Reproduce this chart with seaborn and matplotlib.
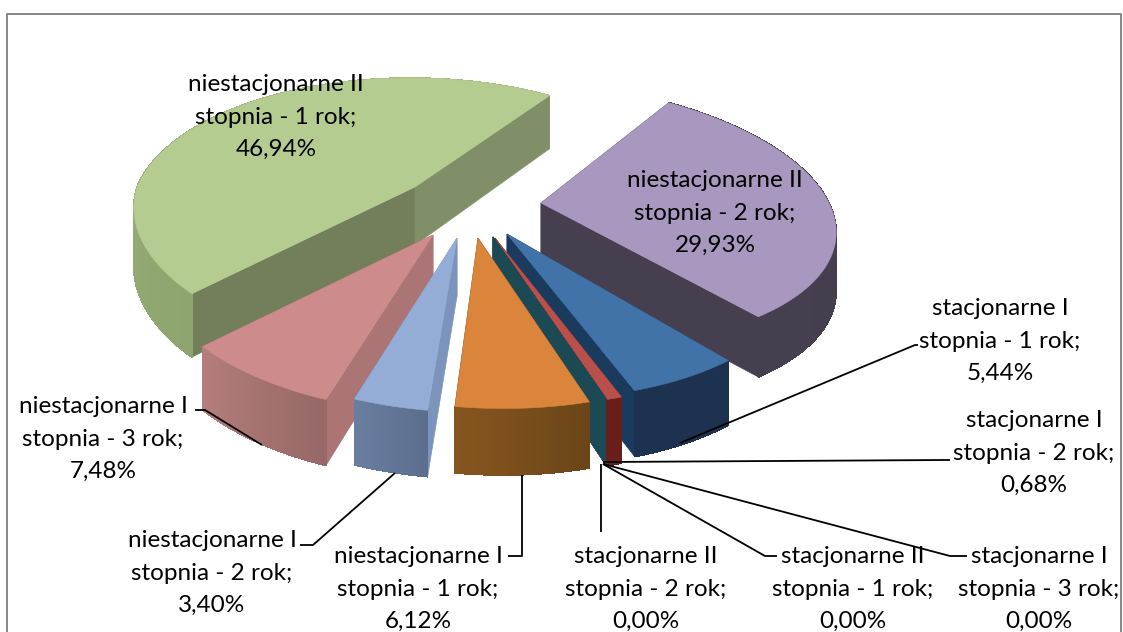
import numpy as np
import matplotlib
matplotlib.use("Agg")
import matplotlib.pyplot as plt
import seaborn as sns

# Data
categories = ["stacjonarne I\nstopnia - 1 rok", "stacjonarne I\nstopnia - 2 rok", "stacjonarne I\nstopnia - 3 rok",
              "stacjonarne II\nstopnia - 1 rok", "stacjonarne II\nstopnia - 2 rok", "niestacjonarne I\nstopnia - 1 rok",
              "niestacjonarne I\nstopnia - 2 rok", "niestacjonarne I\nstopnia - 3 rok", "niestacjonarne II\nstopnia - 1 rok",
              "niestacjonarne II\nstopnia - 2 rok"]
shares = [5.44, 0.68, 0.00, 0.00, 0.00, 6.12, 3.40, 7.48, 46.94, 29.93]

# Styles
top_colors = ["#4273A8", "#B9504B", "#1B4A55", "#1B4A55", "#1B4A55", "#DB843C", "#94ADD6", "#CE8B8B", "#B5CC90", "#A898BF"]
side_from = ["#1C3250", "#6A1E1A", "#1B4A55", "#1B4A55", "#1B4A55", "#6B4518", "#5B6E8E", "#966867", "#8FA570", "#423C4C"]
side_to = ["#1C3250", "#6A1E1A", "#1B4A55", "#1B4A55", "#1B4A55", "#87561F", "#6A7E9F", "#B57E7C", "#A8BE85", "#463F50"]
cut_start = ["#1A3A5E", "#6A1E1A", "#1B4A55", "#1B4A55", "#1B4A55", "#6B4518", "#7C94BC", "#AB7575", "#727F5A", "#463F50"]
cut_end = ["#1A3A5E", "#6A1E1A", "#1B4A55", "#1B4A55", "#1B4A55", "#6B4518", "#7C94BC", "#AB7575", "#818F69", "#463F50"]
explode_px = [(27, 21), (15, 25), (13, 24), (13, 24), (13, 24), (-2, 25), (-23, 25), (-47, 22), (-65, -26), (61, -10)]
draw_order = [8, 9, 7, 0, 1, 2, 3, 4, 6, 5]

# 3D view: exploded slices sit off the vanishing point, so each has its own fit
center = (480, 213)
rx = [278, 278, 278, 278, 278, 278, 278, 278, 278, 288]
ry = [129, 131, 131, 131, 131, 133, 136, 139, 133, 132]
persp = [0.22, 0.22, 0.22, 0.22, 0.22, 0.22, 0.22, 0.22, 0.22, 0.08]
shear_front = [0.17, 0.16, 0.16, 0.16, 0.16, 0.15, 0.11, 0.08, 0.15, 0.31]
shear_back = [0.17, 0.16, 0.16, 0.16, 0.16, 0.15, 0.11, 0.08, 0.045, 0.31]
depth = 58
start_angle = 143.75

label_pos = [(1000, 341), (1034, 453), (1039, 589), (853, 589), (646, 589),
             (418, 589), (212, 573), (103, 439), (276, 117), (715, 213)]
leaders = [[(680, 443), (915, 345), (918, 345)],
           [(603, 462), (945, 460), (950, 460)],
           [(603, 464), (950, 556), (967, 556)],
           [(603, 464), (765, 556), (777, 556)],
           [(601, 464), (601, 532)],
           [(522, 475), (522, 556), (508, 556)],
           [(395, 473), (313, 545), (300, 545)],
           [(262, 445), (205, 410), (195, 410)]]


def project(theta, apex, i):
    # clockwise degrees from the back of the pie, returns px
    t = np.radians(theta)
    u, v = np.sin(t), np.cos(t)
    w = 1 + persp[i] * v
    dy = -ry[i] * v / w
    dx = rx[i] * u / w + np.where(dy > 0, shear_front[i], shear_back[i]) * dy
    return apex[0] + dx, apex[1] + dy, depth * w ** -0.55


sns.set_theme(style="white")
plt.rcParams['font.family'] = ['Lato', 'DejaVu Sans']

fig = plt.figure(figsize=(11.23, 6.32), dpi=100)
ax = fig.add_axes([0, 0, 1, 1])
ax.set_xlim(0, 1123)
ax.set_ylim(632, 0)
ax.axis('off')

# Chart frame
ax.plot([7, 7, 1121, 1121], [640, 14, 14, 640], color="#868686", lw=1.4)

# Slice angles come from the shares
edges = start_angle + np.cumsum([0] + shares) / sum(shares) * 360
z = 2


def draw_wall(xs, ys, ds, ramp, keep, z):
    # outer wall, shaded along the arc
    for n in range(len(xs) - 1):
        if keep[n]:
            ax.fill([xs[n], xs[n + 1], xs[n + 1], xs[n]],
                    [ys[n], ys[n + 1], ys[n + 1] + ds[n + 1], ys[n] + ds[n]],
                    color=ramp[n], lw=0.5, antialiased=False, zorder=z)


for i in draw_order:
    a0, a1 = edges[i], edges[i + 1]
    apex = (center[0] + explode_px[i][0], center[1] + explode_px[i][1])
    thetas = np.linspace(a0, a1, max(int(a1 - a0) * 2, 2))
    xs, ys, ds = project(thetas, apex, i)
    ramp = sns.blend_palette([side_from[i], side_to[i]], len(thetas))
    back = np.cos(np.radians(thetas)) > 0

    # back part of the wall goes behind the cut faces
    if a1 > a0:
        draw_wall(xs, ys, ds, ramp, back, z)
        z += 1

    # cut faces
    for k, col in ((0, cut_start[i]), (-1, cut_end[i])):
        ax.fill([apex[0], xs[k], xs[k], apex[0]],
                [apex[1], ys[k], ys[k] + ds[k], apex[1] + depth],
                color=col, lw=0.5, zorder=z)
        z += 1

    if a1 > a0:
        draw_wall(xs, ys, ds, ramp, ~back, z)
        z += 1
        # top face
        ax.fill(np.r_[apex[0], xs], np.r_[apex[1], ys], color=top_colors[i], lw=0.4, zorder=z)
        z += 1

# Leader lines
for line in leaders:
    ax.plot(*zip(*line), color="black", lw=1.3, zorder=z, solid_capstyle='butt')
z += 1

# Labels
for name, value, pos in zip(categories, shares, label_pos):
    text = f"{name};\n{value:.2f}%".replace(".", ",")
    ax.text(pos[0], pos[1], text, ha='center', va='center', fontsize=17.5, color="black",
            linespacing=1.66, zorder=z)

fig.savefig("out.png", dpi=100)
